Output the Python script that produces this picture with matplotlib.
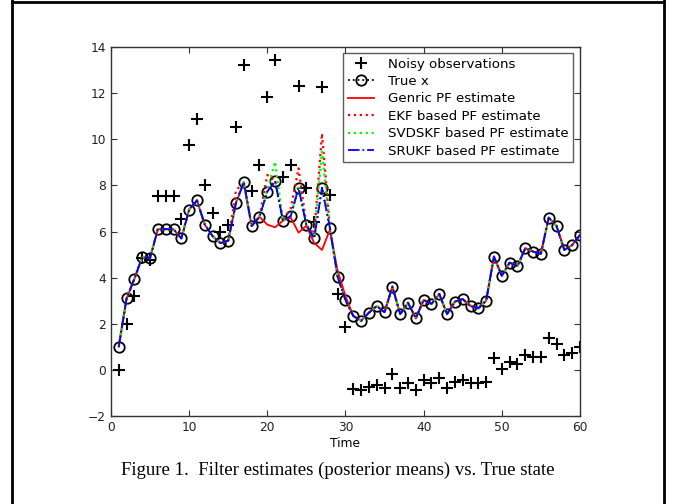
import matplotlib
matplotlib.use('Agg')
import matplotlib.pyplot as plt
from matplotlib.lines import Line2D

t = list(range(1, 61))

noisy = [0.0, 2.0, 3.2, 4.85, 4.77, 7.55, 7.55, 7.55, 6.53, 9.75,
         10.87, 8.02, 6.79, 5.99, 6.28, 10.55, 13.22, 7.77, 8.88, 11.85,
         13.44, 8.35, 8.88, 12.32, 7.87, 6.43, 12.25, 7.58, 3.28, 1.85,
         -0.84, -0.87, -0.73, -0.66, -0.77, -0.18, -0.8, -0.56, -0.87, -0.44,
         -0.56, -0.37, -0.8, -0.51, -0.44, -0.58, -0.58, -0.51, 0.5, 0.03,
         0.33, 0.24, 0.65, 0.57, 0.55, 1.37, 1.12, 0.65, 0.72, 0.98]

true_x = [1.0, 3.1, 3.95, 4.9, 4.85, 6.1, 6.1, 6.1, 5.7, 6.95,
          7.35, 6.3, 5.8, 5.5, 5.6, 7.25, 8.15, 6.24, 6.64, 7.73,
          8.19, 6.47, 6.67, 7.9, 6.28, 5.7, 7.9, 6.17, 4.04, 3.03,
          2.34, 2.13, 2.48, 2.77, 2.5, 3.61, 2.42, 2.91, 2.24, 3.03,
          2.86, 3.29, 2.42, 2.96, 3.07, 2.77, 2.67, 3.0, 4.91, 4.08,
          4.65, 4.5, 5.27, 5.13, 5.03, 6.6, 6.24, 5.2, 5.41, 5.85]

generic_pf = [1.0, 3.1, 3.95, 4.9, 4.85, 6.1, 6.1, 6.1, 5.7, 6.95,
              7.35, 6.3, 5.8, 5.5, 5.6, 7.25, 8.1, 6.24, 6.64, 6.3,
              6.18, 6.47, 6.6, 5.95, 6.25, 5.5, 5.2, 6.07, 4.3, 3.2,
              2.34, 2.13, 2.48, 2.77, 2.5, 3.61, 2.42, 2.91, 2.24, 3.03,
              2.86, 3.29, 2.42, 2.96, 3.07, 2.77, 2.67, 3.0, 4.91, 4.08,
              4.65, 4.5, 5.27, 5.13, 5.03, 6.6, 6.24, 5.2, 5.41, 5.85]

ekf_pf = [1.0, 3.1, 3.95, 4.9, 4.85, 6.1, 6.1, 6.1, 5.7, 6.95,
          7.35, 6.3, 5.8, 5.5, 5.6, 7.8, 8.1, 6.24, 6.64, 8.45,
          8.2, 6.47, 7.0, 8.74, 6.28, 5.9, 10.25, 6.17, 4.04, 3.03,
          2.34, 2.13, 2.48, 2.77, 2.5, 3.61, 2.42, 2.91, 2.24, 3.03,
          2.86, 3.29, 2.42, 2.96, 3.07, 2.77, 2.67, 3.0, 4.91, 4.08,
          4.65, 4.5, 5.27, 5.13, 5.03, 6.6, 6.24, 5.2, 5.41, 5.85]

svdskf_pf = [1.0, 3.1, 3.95, 4.9, 4.85, 6.1, 6.1, 6.1, 5.7, 6.95,
             7.35, 6.3, 5.8, 5.5, 5.6, 7.25, 8.15, 6.24, 6.64, 7.8,
             9.03, 6.47, 6.67, 8.0, 6.28, 5.8, 9.46, 6.17, 4.04, 3.03,
             2.34, 2.13, 2.48, 2.77, 2.5, 3.61, 2.42, 2.91, 2.24, 3.03,
             2.86, 3.29, 2.42, 2.96, 3.07, 2.77, 2.67, 3.0, 4.91, 4.08,
             4.65, 4.5, 5.27, 5.13, 5.03, 6.6, 6.24, 5.2, 5.41, 5.85]

srukf_pf = list(true_x)

fig = plt.figure(figsize=(6.75, 5.04), dpi=100)
ax = fig.add_axes([0.1644, 0.1746, 0.6948, 0.7321])

ax.plot(t, noisy, '+', color='k', markersize=8, markeredgewidth=1.5,
        label='Noisy observations')
ax.plot(t, true_x, ':', color='k', marker='o', markerfacecolor='none',
        markersize=7.5, markeredgewidth=1.3, linewidth=1.3, label='True x')
ax.plot(t, generic_pf, '-', color=(1, 0, 0), linewidth=1.3,
        label='Genric PF estimate')
ax.plot(t, ekf_pf, ':', color=(1, 0, 0), linewidth=1.6,
        label='EKF based PF estimate')
ax.plot(t, svdskf_pf, ':', color=(0, 1, 0), linewidth=1.6,
        label='SVDSKF based PF estimate')
ax.plot(t, srukf_pf, '-.', color=(0, 0, 1), linewidth=1.3,
        label='SRUKF based PF estimate')

ax.set_xlim(0, 60)
ax.set_ylim(-2, 14)
ax.set_xticks(range(0, 61, 10))
ax.set_yticks(range(-2, 15, 2))
ax.tick_params(direction='in', top=True, right=True, labelsize=8.8,
               length=4, colors='#333333', labelcolor='#222222')
for s in ax.spines.values():
    s.set_color('#333333')
    s.set_linewidth(1)
ax.set_xlabel('Time', fontsize=8.8, labelpad=2)

leg = ax.legend(loc='upper right', fontsize=9.6, frameon=True, fancybox=False,
                edgecolor='#333333', handlelength=2.0, borderpad=0.35,
                labelspacing=0.33, handletextpad=1.0, borderaxespad=0,
                bbox_to_anchor=(0.985, 0.984))
leg.get_frame().set_linewidth(1)

fig.text(0.5, 0.067, 'Figure 1.  Filter estimates (posterior means) vs. True state',
         ha='center', va='center', fontsize=13.5, family='Liberation Serif')

# page frame
fig.add_artist(Line2D([12 / 675, 12 / 675], [0, 1], transform=fig.transFigure,
                      color='k', linewidth=2))
fig.add_artist(Line2D([664 / 675, 664 / 675], [0, 1], transform=fig.transFigure,
                      color='k', linewidth=2))
fig.add_artist(Line2D([12 / 675, 664 / 675], [0.997, 0.997], transform=fig.transFigure,
                      color='k', linewidth=2))

plt.savefig('out.png', dpi=100)
